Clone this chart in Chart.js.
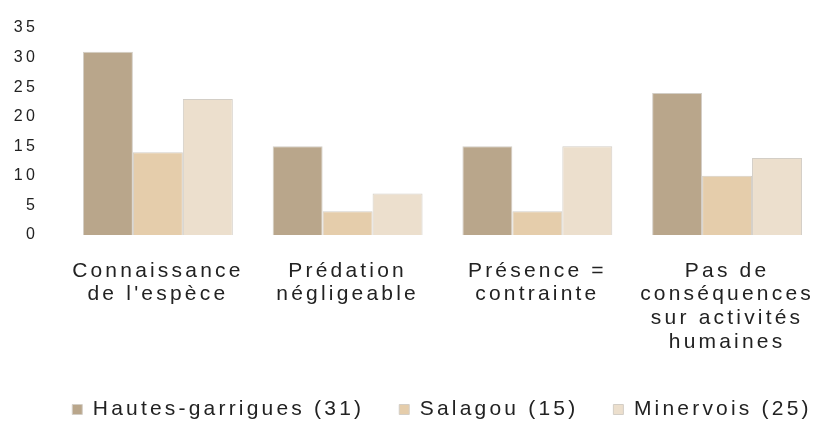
<!DOCTYPE html>
<html>
<head>
<meta charset="utf-8">
<script src="https://cdn.jsdelivr.net/npm/chart.js@4/dist/chart.umd.min.js"></script>
<style>
  html, body { margin: 0; padding: 0; background: #fff; overflow: hidden; }
  #wrap { width: 838px; height: 430px; position: relative; }
</style>
</head>
<body>
<div id="wrap"><canvas id="c"></canvas></div>
<script>
const categories = [
  ["Connaissance", "de l'espèce"],
  ["Prédation", "négligeable"],
  ["Présence =", "contrainte"],
  ["Pas de", "conséquences", "sur activités", "humaines"]
];
const seriesNames = ["Hautes-garrigues (31)", "Salagou (15)", "Minervois (25)"];
const hautesGarrigues = [31, 15, 15, 24];
const salagou = [14, 4, 4, 10];
const minervois = [23, 7, 15, 13];
const yTicks = [0, 5, 10, 15, 20, 25, 30, 35];

const colors = ["#b9a68b", "#e5cdab", "#ecdfcd"];
const FONT = "'Liberation Sans', Arial, sans-serif";

const spacingPlugin = {
  id: 'letterSpacing',
  beforeUpdate(chart) { chart.ctx.letterSpacing = '3.2px'; },
  beforeLayout(chart) { chart.ctx.letterSpacing = '3.2px'; },
  afterLayout(chart) {
    if (chart.legend) { chart.legend.left += 19; chart.legend.right += 19; }
  },
  beforeDraw(chart) { chart.ctx.letterSpacing = '3.2px'; }
};

new Chart(document.getElementById('c'), {
  type: 'bar',
  data: {
    labels: categories,
    datasets: [
      { label: seriesNames[0], data: hautesGarrigues, backgroundColor: colors[0] },
      { label: seriesNames[1], data: salagou, backgroundColor: colors[1] },
      { label: seriesNames[2], data: minervois, backgroundColor: colors[2] }
    ].map(d => Object.assign(d, { borderColor: '#d3cec6', borderWidth: 1, categoryPercentage: 0.79, barPercentage: 1.0 }))
  },
  plugins: [spacingPlugin],
  options: {
    responsive: true,
    maintainAspectRatio: false,
    animation: false,
    layout: { padding: { top: 28, left: 0, right: -8, bottom: 0 } },
    plugins: {
      tooltip: { enabled: false },
      legend: {
        position: 'bottom',
        labels: {
          boxWidth: 10,
          boxHeight: 10,
          padding: 35,
          color: '#222',
          font: { family: FONT, size: 21 }
        }
      }
    },
    scales: {
      x: {
        grid: { display: false, drawTicks: false },
        border: { display: false },
        afterFit(scale) { scale.height = 129; },
        ticks: {
          maxRotation: 0,
          autoSkip: false,
          padding: 24,
          color: '#222',
          font: { family: FONT, size: 21, lineHeight: 1.13 }
        }
      },
      y: {
        min: 0,
        max: 35,
        grid: { display: false, drawTicks: false },
        border: { display: false },
        afterFit(scale) { scale.width = 63; scale.paddingTop = 0; scale.paddingBottom = 0; },
        afterBuildTicks(scale) { scale.ticks = yTicks.map(v => ({ value: v })); },
        ticks: {
          padding: 25,
          color: '#222',
          font: { family: FONT, size: 16 }
        }
      }
    }
  }
});
</script>
</body>
</html>
